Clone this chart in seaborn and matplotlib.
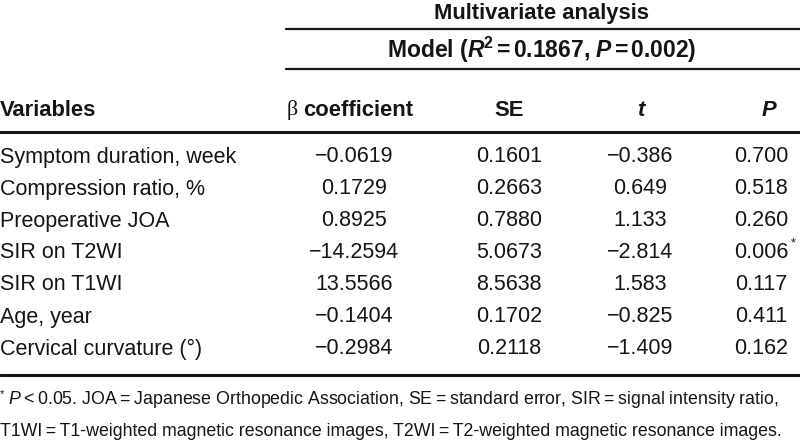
import matplotlib
matplotlib.use("Agg")
import matplotlib.pyplot as plt
import seaborn as sns

# table content
variables = [
    "Symptom duration, week",
    "Compression ratio, %",
    "Preoperative JOA",
    "SIR on T2WI",
    "SIR on T1WI",
    "Age, year",
    "Cervical curvature (°)",
]
beta = [-0.0619, 0.1729, 0.8925, -14.2594, 13.5566, -0.1404, -0.2984]
se = [0.1601, 0.2663, 0.7880, 5.0673, 8.5638, 0.1702, 0.2118]
t_vals = [-0.386, 0.649, 1.133, -2.814, 1.583, -0.825, -1.409]
p_vals = [0.700, 0.518, 0.260, 0.006, 0.117, 0.411, 0.162]
significant = [False, False, False, True, False, False, False]

footnote_1 = ("P\u2009<\u20090.05. JOA\u2009=\u2009Japanese Orthopedic Association, "
              "SE\u2009=\u2009standard error, SIR\u2009=\u2009signal intensity ratio,")
footnote_2 = ("T1WI\u2009=\u2009T1-weighted magnetic resonance images, "
              "T2WI\u2009=\u2009T2-weighted magnetic resonance images.")

FONT = ["Liberation Sans", "DejaVu Sans"]
sns.set_theme(style="white")
plt.rcParams["font.family"] = FONT
plt.rcParams["mathtext.fontset"] = "custom"
plt.rcParams["mathtext.rm"] = "Liberation Sans:bold"
plt.rcParams["mathtext.bf"] = "Liberation Sans:bold"
plt.rcParams["mathtext.it"] = "Liberation Sans:italic"
plt.rcParams["mathtext.bfit"] = "Liberation Sans:italic:bold"


def fmt(v, nd):
    s = f"{abs(v):.{nd}f}"
    return ("\u2212" + s) if v < 0 else s


fig = plt.figure(figsize=(8, 4.45), dpi=100)
ax = fig.add_axes([0, 0, 1, 1])
ax.set_xlim(0, 800)
ax.set_ylim(445, 0)
ax.axis("off")

ink = "#151515"
body = 15.5
head = 15.8
col_x = [354, 509, 640, 761]

# spanning headers
ax.text(542, 13, "Multivariate analysis", ha="center", va="center",
        fontsize=head, fontweight="bold", color=ink)
ax.plot([286, 800], [29, 29], color=ink, lw=1.6)
ax.text(542, 50, r"Model ($\mathbfit{R}^{\mathbf{2}}$$\,$=$\,$0.1867, $\mathbfit{P}$$\,$=$\,$0.002)",
        ha="center", va="center", fontsize=16.5, fontweight="bold", color=ink)
ax.plot([286, 800], [69, 69], color=ink, lw=1.6)

# column headers
hy = 110
ax.text(0, hy, "Variables", ha="left", va="center", fontsize=head,
        fontweight="bold", color=ink)
ax.text(287, hy, "β", ha="left", va="center", fontsize=head,
        family=["Liberation Serif", "DejaVu Serif"], color=ink)
ax.text(303, hy, "coefficient", ha="left", va="center", fontsize=head,
        fontweight="bold", color=ink)
ax.text(509, hy, "SE", ha="center", va="center", fontsize=head,
        fontweight="bold", color=ink)
ax.text(641, hy, "t", ha="center", va="center", fontsize=head,
        fontweight="bold", fontstyle="italic", color=ink)
ax.text(769, hy, "P", ha="center", va="center", fontsize=head,
        fontweight="bold", fontstyle="italic", color=ink)
ax.plot([0, 800], [132, 132], color=ink, lw=2.2)

# body rows
y0, dy = 157, 32
for i, name in enumerate(variables):
    y = y0 + i * dy
    ax.text(0, y, name, ha="left", va="center", fontsize=body, color=ink)
    cells = [fmt(beta[i], 4), fmt(se[i], 4), fmt(t_vals[i], 3), fmt(p_vals[i], 3)]
    for x, s in zip(col_x, cells):
        ax.text(x, y, s, ha="center", va="center", fontsize=body, color=ink)
    if significant[i]:
        ax.text(791, y - 10, "*", ha="left", va="center", fontsize=9, color=ink)

ax.plot([0, 800], [375, 375], color=ink, lw=2.2)

# footnote
ax.text(0, 394, "*", ha="left", va="center", fontsize=8, color=ink)
ax.text(8, 400, r"$\mathit{P}$" + footnote_1[1:], ha="left", va="center",
        fontsize=12.8, color=ink)
ax.text(0, 432, footnote_2, ha="left", va="center", fontsize=12.8, color=ink)

fig.savefig("out.png", dpi=100)
